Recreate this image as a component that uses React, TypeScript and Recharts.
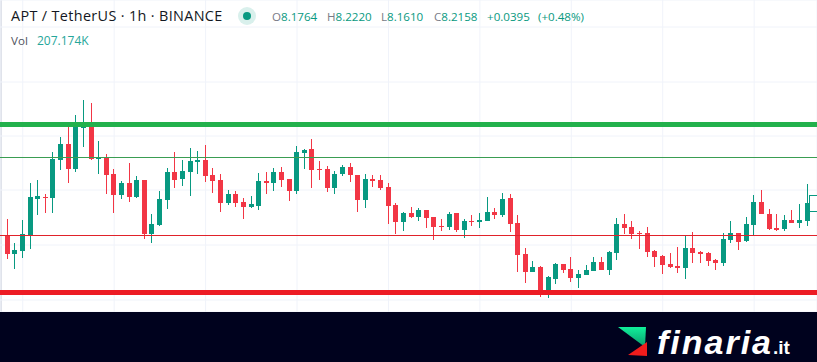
import React from 'react';
import { Bar, CartesianGrid, Cell, ComposedChart, ReferenceLine, XAxis, YAxis } from 'recharts';

const opens = [
  8.15, 8.112, 8.118, 8.15, 8.222, 8.226, 8.224, 8.3, 8.332, 8.282, 8.364, 8.372, 8.302, 8.304, 8.272, 8.23, 8.254, 8.226,
  8.26, 8.152, 8.17, 8.22, 8.276, 8.262, 8.276, 8.296, 8.3, 8.27, 8.26, 8.214, 8.232, 8.216, 8.206, 8.208, 8.258, 8.254,
  8.276, 8.262, 8.238, 8.314, 8.322, 8.282, 8.282, 8.244, 8.272, 8.286, 8.27, 8.22, 8.262, 8.26, 8.246, 8.21, 8.176, 8.194,
  8.186, 8.2, 8.186, 8.168, 8.166, 8.194, 8.16, 8.178, 8.176, 8.178, 8.196, 8.19, 8.224, 8.174, 8.112, 8.076, 8.086, 8.038,
  8.062, 8.092, 8.082, 8.064, 8.07, 8.078, 8.096, 8.08, 8.114, 8.172, 8.166, 8.154, 8.154, 8.118, 8.108, 8.092, 8.088, 8.084,
  8.124, 8.116, 8.114, 8.1, 8.094, 8.14, 8.154, 8.138, 8.17, 8.216, 8.192, 8.164, 8.162, 8.18, 8.174, 8.178,
];
const highs = [
  8.182, 8.134, 8.18, 8.254, 8.26, 8.232, 8.316, 8.346, 8.372, 8.39, 8.42, 8.414, 8.338, 8.312, 8.282, 8.258, 8.294, 8.268,
  8.26, 8.192, 8.238, 8.284, 8.316, 8.3, 8.324, 8.318, 8.33, 8.284, 8.272, 8.24, 8.238, 8.224, 8.228, 8.274, 8.276, 8.284,
  8.286, 8.262, 8.328, 8.322, 8.342, 8.298, 8.288, 8.278, 8.29, 8.294, 8.27, 8.272, 8.27, 8.27, 8.254, 8.214, 8.196, 8.206,
  8.204, 8.2, 8.186, 8.182, 8.196, 8.194, 8.182, 8.19, 8.194, 8.226, 8.204, 8.234, 8.232, 8.19, 8.124, 8.098, 8.088, 8.068,
  8.094, 8.092, 8.106, 8.08, 8.09, 8.106, 8.106, 8.118, 8.184, 8.192, 8.178, 8.158, 8.166, 8.12, 8.11, 8.114, 8.126, 8.15,
  8.156, 8.118, 8.116, 8.102, 8.154, 8.178, 8.154, 8.186, 8.23, 8.24, 8.202, 8.192, 8.19, 8.2, 8.212, 8.252,
];
const lows = [
  8.102, 8.082, 8.104, 8.122, 8.19, 8.194, 8.194, 8.28, 8.254, 8.276, 8.326, 8.3, 8.272, 8.232, 8.194, 8.222, 8.216, 8.224,
  8.142, 8.134, 8.168, 8.202, 8.244, 8.248, 8.228, 8.272, 8.256, 8.234, 8.196, 8.21, 8.206, 8.182, 8.204, 8.2, 8.232, 8.238,
  8.246, 8.218, 8.232, 8.282, 8.244, 8.26, 8.236, 8.232, 8.268, 8.256, 8.196, 8.204, 8.246, 8.24, 8.172, 8.152, 8.158, 8.184,
  8.178, 8.164, 8.14, 8.158, 8.16, 8.156, 8.144, 8.168, 8.164, 8.178, 8.182, 8.186, 8.156, 8.076, 8.054, 8.076, 8.026, 8.024,
  8.052, 8.074, 8.056, 8.044, 8.07, 8.078, 8.08, 8.07, 8.1, 8.152, 8.142, 8.122, 8.106, 8.086, 8.072, 8.084, 8.074, 8.062,
  8.094, 8.094, 8.088, 8.08, 8.088, 8.134, 8.12, 8.136, 8.15, 8.192, 8.16, 8.158, 8.158, 8.174, 8.164, 8.168,
];
const closes = [
  8.112, 8.12, 8.152, 8.226, 8.228, 8.224, 8.302, 8.332, 8.282, 8.372, 8.366, 8.302, 8.304, 8.27, 8.23, 8.254, 8.226, 8.26,
  8.152, 8.172, 8.222, 8.276, 8.26, 8.278, 8.298, 8.3, 8.268, 8.258, 8.214, 8.232, 8.214, 8.206, 8.212, 8.258, 8.254, 8.276,
  8.26, 8.238, 8.316, 8.32, 8.28, 8.28, 8.244, 8.272, 8.286, 8.27, 8.22, 8.262, 8.258, 8.244, 8.208, 8.176, 8.194, 8.186,
  8.2, 8.184, 8.166, 8.166, 8.192, 8.16, 8.178, 8.176, 8.18, 8.196, 8.19, 8.222, 8.172, 8.11, 8.076, 8.086, 8.04, 8.066,
  8.092, 8.08, 8.064, 8.072, 8.08, 8.096, 8.08, 8.116, 8.172, 8.164, 8.152, 8.152, 8.116, 8.106, 8.09, 8.086, 8.084, 8.124,
  8.114, 8.112, 8.098, 8.094, 8.142, 8.154, 8.136, 8.172, 8.216, 8.192, 8.162, 8.16, 8.18, 8.174, 8.18, 8.214,
];

const gridBars = [2, 14, 26, 38, 50, 62, 74, 86, 98];
const gridPrices = [8.566, 8.456, 8.348, 8.24, 8.13, 8.02];
const resistanceLevel = 8.371;
const upperLevel = 8.305;
const lowerLevel = 8.149;
const supportLevel = 8.035;

const UP = '#089981';
const DOWN = '#f23645';
const GRID = '#f0f3fa';

const data = opens.map((open, i) => ({
  bar: i,
  wick: [lows[i], highs[i]],
  body: [Math.min(open, closes[i]), Math.max(open, closes[i])],
  color: closes[i] >= open ? UP : DOWN,
}));

const labelStyle: React.CSSProperties = {
  position: 'absolute',
  whiteSpace: 'nowrap',
  fontFamily: '"Open Sans", sans-serif',
  lineHeight: '16px',
};

function Quote({ x, letter, value }: { x: number; letter?: string; value: string }) {
  return (
    <div style={{ ...labelStyle, left: x, top: 9, fontSize: 11.6, color: UP }}>
      {letter && <span style={{ color: '#787b86' }}>{letter}</span>}
      {value}
    </div>
  );
}

export default function App() {
  return (
    <div
      style={{
        position: 'absolute',
        left: 0,
        top: 0,
        width: 817,
        height: 362,
        overflow: 'hidden',
        background: '#ffffff',
      }}
    >
      <div style={{ position: 'absolute', left: 0, top: 0, width: 2, height: 312, background: '#e0e3eb' }} />
      <div style={{ position: 'absolute', left: 0, top: 0 }}>
        <ComposedChart width={817} height={312} data={data} margin={{ top: 0, right: 0, bottom: 0, left: 0 }}>
          <XAxis xAxisId="wick" dataKey="bar" hide padding={{ left: 3.7, right: 5.7 }} ticks={gridBars} />
          <XAxis xAxisId="body" dataKey="bar" hide padding={{ left: 3.7, right: 5.7 }} />
          <YAxis hide type="number" domain={[7.996, 8.62]} allowDataOverflow ticks={gridPrices} />
          <CartesianGrid xAxisId="wick" stroke={GRID} strokeWidth={1} />
          <Bar xAxisId="wick" dataKey="wick" barSize={1} isAnimationActive={false} shapeRendering="crispEdges">
            {data.map((d) => (
              <Cell key={d.bar} fill={d.color} />
            ))}
          </Bar>
          <Bar xAxisId="body" dataKey="body" barSize={5} isAnimationActive={false} shapeRendering="crispEdges">
            {data.map((d) => (
              <Cell key={d.bar} fill={d.color} />
            ))}
          </Bar>
          <ReferenceLine xAxisId="wick" y={resistanceLevel} stroke="#22b14c" strokeWidth={5} />
          <ReferenceLine xAxisId="wick" y={upperLevel} stroke="#3a9d52" strokeWidth={1} />
          <ReferenceLine xAxisId="wick" y={lowerLevel} stroke="#e0222a" strokeWidth={1} />
          <ReferenceLine xAxisId="wick" y={supportLevel} stroke="#ed1c24" strokeWidth={5} />
        </ComposedChart>
      </div>

      <div style={{ ...labelStyle, left: 11, top: 8, fontSize: 14.4, letterSpacing: 0.35, color: '#131722' }}>
        APT / TetherUS · 1h · BINANCE
      </div>
      <div
        style={{
          position: 'absolute',
          left: 238,
          top: 7,
          width: 18,
          height: 18,
          borderRadius: 9,
          background: '#d9f0ec',
        }}
      />
      <div
        style={{ position: 'absolute', left: 243, top: 12, width: 8, height: 8, borderRadius: 4, background: UP }}
      />
      <Quote x={272} letter="O" value="8.1764" />
      <Quote x={327} letter="H" value="8.2220" />
      <Quote x={381} letter="L" value="8.1610" />
      <Quote x={434} letter="C" value="8.2158" />
      <Quote x={487} value="+0.0395" />
      <Quote x={538} value="(+0.48%)" />
      <div style={{ ...labelStyle, left: 11, top: 33, fontSize: 11.6, color: '#50535e' }}>Vol</div>
      <div style={{ ...labelStyle, left: 37, top: 33, fontSize: 12, color: '#26a69a' }}>207.174K</div>

      <div
        style={{
          position: 'absolute',
          left: 809,
          top: 195,
          width: 10,
          height: 15,
          border: `1px solid ${UP}`,
          background: '#ffffff',
        }}
      />

      <div style={{ position: 'absolute', left: 0, top: 312, width: 817, height: 50, background: '#00021e' }} />
      <svg width={40} height={40} style={{ position: 'absolute', left: 615, top: 322 }}>
        <defs>
          <linearGradient id="logoGreen" x1="0" y1="0" x2="0" y2="1">
            <stop offset="0" stopColor="#10f09a" />
            <stop offset="1" stopColor="#0a9a6c" />
          </linearGradient>
        </defs>
        <polygon points="3,5 31,5 30,25" fill="url(#logoGreen)" />
        <polygon points="13,33 32,20 32,34" fill="#f01c1c" />
      </svg>
      <div
        style={{
          position: 'absolute',
          left: 657,
          top: 323,
          whiteSpace: 'nowrap',
          fontFamily: '"Liberation Sans", sans-serif',
          fontWeight: 700,
          fontStyle: 'italic',
          fontSize: 34,
          lineHeight: '38px',
          letterSpacing: 2,
          color: '#ffffff',
        }}
      >
        finaria<span style={{ fontSize: 19, fontStyle: 'normal', letterSpacing: 0 }}>.it</span>
      </div>
    </div>
  );
}
